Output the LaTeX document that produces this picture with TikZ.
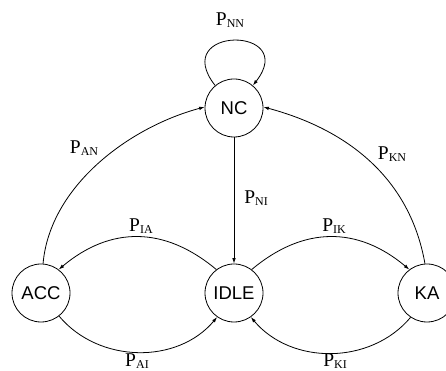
\documentclass[tikz,border=0pt]{standalone}
\usepackage{fontspec}
\setmainfont{Liberation Serif}
\newfontfamily\nodefont{Liberation Sans}
\usetikzlibrary{arrows.meta}
\newcommand{\plab}[1]{{\fontsize{19.5}{20}\selectfont P}\raisebox{-0.22em}{\fontsize{12}{12}\selectfont #1}}
\tikzset{
  state/.style={circle,draw,line width=0.8pt,minimum size=58pt,inner sep=0pt,font=\nodefont\fontsize{18.5}{19}\selectfont},
  edge/.style={line width=0.8pt,-{Latex[length=5.5pt,width=3.6pt]}},
  lab/.style={inner sep=0pt}
}
\begin{document}
\begin{tikzpicture}[x=1pt,y=1pt]
\useasboundingbox (0,0) rectangle (446,371);
\node[state] (NC) at (234,263) {NC};
\node[state] (IDLE) at (234,78) {IDLE};
\node[state] (ACC) at (41,78) {ACC};
\node[state] (KA) at (427,78) {KA};
% labels
\node[lab] (lNN) at (230,351) {\plab{NN}};
\node[lab] (lAN) at (84,223) {\plab{AN}};
\node[lab] (lKN) at (392,217) {\plab{KN}};
\node[lab] (lNI) at (256,173) {\plab{NI}};
\node[lab] (lIA) at (141,145) {\plab{IA}};
\node[lab] (lIK) at (334,145) {\plab{IK}};
\node[lab] (lAI) at (137,10) {\plab{AI}};
\node[lab] (lKI) at (335,10) {\plab{KI}};
% edges
\draw[edge] (NC.130) .. controls +(128:76) and +(52:76) .. (NC.50);
\draw[edge] (NC.south) -- (IDLE.north);
\draw[edge] (ACC.86) .. controls +(85:78) and +(195:78) .. (NC.178);
\draw[edge] (KA.94) .. controls +(100:87) and +(-15:87) .. (NC.2);
\draw[edge] (IDLE.127) to[out=140,in=40,looseness=1.1] (ACC.53);
\draw[edge] (IDLE.53) to[out=40,in=140,looseness=1.1] (KA.127);
\draw[edge] (ACC.-52) to[out=-50,in=-130] (IDLE.-125);
\draw[edge] (KA.-124) to[out=-130,in=-50] (IDLE.-55);
\end{tikzpicture}
\end{document}
